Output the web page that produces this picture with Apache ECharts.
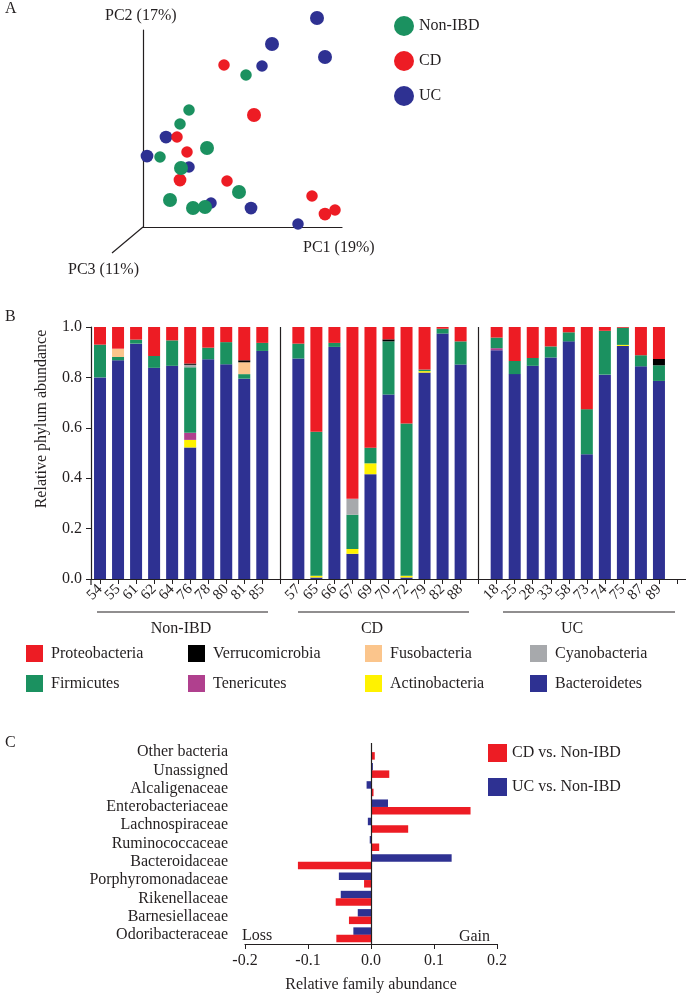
<!DOCTYPE html>
<html><head><meta charset="utf-8">
<script src="https://cdn.jsdelivr.net/npm/echarts@6/dist/echarts.min.js"></script>
<style>html,body{margin:0;padding:0;background:#fff}#c{width:686px;height:994px}</style>
</head><body><div id="c"></div>
<script>
// ---------- Panel A: PCoA (PC1, PC2, PC3 depth 0..1) ----------
const nonIbdPC = [[103,152],[46,117],[37,103],[64,79],[17,70],[38,59],[27,27],[50,19],[62,20],[96,35]];
const nonIbdPC3 = [0,0,0,1,0,1,1,1,1,1];
const cdPC = [[81,162],[111,112],[34,90],[44,75],[37,47],[84,46],[169,31],[182,13],[192,17]];
const cdPC3 = [0,1,0,0,0.5,0,0,0.5,0];
const ucPC = [[174,209],[129,183],[182,170],[119,161],[23,90],[4,71],[46,60],[68,24],[108,19],[155,3]];
const ucPC3 = [1,1,1,0,0.5,0.5,0,0,0.5,0];

// ---------- Panel B: relative phylum abundance ----------
const nonIbdSamples = ['54','55','61','62','64','76','78','80','81','85'];
const cdSamples = ['57','65','66','67','69','70','72','79','82','88'];
const ucSamples = ['18','25','28','33','58','73','74','75','87','89'];
// values in order: Non-IBD (10), CD (10), UC (10)
const bacteroidetes = [.800,.868,.934,.838,.846,.522,.872,.852,.795,.905, .875,.006,.921,.100,.416,.732,.006,.819,.974,.851, .908,.813,.846,.879,.943,.495,.811,.925,.844,.786];
const actinobacteria = [0,0,0,0,0,.030,0,0,0,0, 0,.007,0,.019,.043,0,.007,.006,0,0, 0,0,0,0,0,0,0,.004,0,0];
const tenericutes = [0,0,0,0,0,.028,0,0,0,0, 0,0,0,0,0,0,0,0,0,0, .008,0,0,0,0,0,0,0,0,0];
const firmicutes = [.130,.013,.016,.047,.101,.260,.046,.088,.018,.032, .059,.571,.016,.136,.062,.211,.604,.006,.019,.092, .042,.052,.031,.044,.036,.179,.174,.068,.044,.062];
const cyanobacteria = [0,0,0,0,0,.010,0,0,0,0, 0,0,0,.063,0,0,0,0,0,0, 0,0,0,0,0,0,0,0,0,0];
const fusobacteria = [0,.033,0,0,0,0,0,0,.047,0, 0,0,0,0,0,0,0,0,0,0, 0,0,0,0,0,0,0,0,0,0];
const verrucomicrobia = [0,0,0,0,0,.005,0,0,.008,0, 0,0,0,0,0,.008,0,0,0,0, 0,0,0,0,0,0,0,0,0,.025];
const proteobacteria = [.070,.086,.050,.115,.053,.145,.082,.060,.132,.063, .066,.416,.063,.682,.479,.049,.383,.169,.007,.057, .042,.135,.123,.077,.021,.326,.015,.003,.112,.127];
const yTicksB = [0,0.2,0.4,0.6,0.8,1.0];

// ---------- Panel C: relative family abundance ----------
const families = ['Other bacteria','Unassigned','Alcaligenaceae','Enterobacteriaceae','Lachnospiraceae','Ruminococcaceae','Bacteroidaceae','Porphyromonadaceae','Rikenellaceae','Barnesiellaceae','Odoribacteraceae'];
const cdVsNonIbd = [0.006,0.029,0.004,0.158,0.059,0.013,-0.116,-0.011,-0.056,-0.035,-0.055];
const ucVsNonIbd = [0.001,0.003,-0.007,0.027,-0.005,-0.002,0.128,-0.051,-0.048,-0.021,-0.028];

const FONT = '"Liberation Serif", "Times New Roman", serif';
const TXT = '#231f20';
const COL = {
  Proteobacteria:'#ED1C24', Verrucomicrobia:'#000000', Fusobacteria:'#FBC58C', Cyanobacteria:'#A7A9AC',
  Firmicutes:'#1B9160', Tenericutes:'#B0408E', Actinobacteria:'#FFF200', Bacteroidetes:'#2E3192'
};

// build category axis with gap slots
const cats = [...nonIbdSamples, 'g1', ...cdSamples, 'g2', ...ucSamples, 'g3'];
function withGaps(arr){ return [...arr.slice(0,10), '-', ...arr.slice(10,20), '-', ...arr.slice(20,30), '-']; }
const stackOrder = [
  ['Bacteroidetes', bacteroidetes], ['Actinobacteria', actinobacteria], ['Tenericutes', tenericutes],
  ['Firmicutes', firmicutes], ['Cyanobacteria', cyanobacteria], ['Fusobacteria', fusobacteria],
  ['Verrucomicrobia', verrucomicrobia], ['Proteobacteria', proteobacteria]
];

const chart = echarts.init(document.getElementById('c'), null, {renderer:'canvas'});
const ts = (s) => ({fontFamily:FONT, fontSize:s, color:TXT});
const axLine = {show:true, lineStyle:{color:TXT, width:1.2}};

const seriesB = stackOrder.map(([name, vals], i) => ({
  name, type:'bar', stack:'phyla', xAxisIndex:1, yAxisIndex:1, barWidth:12,
  itemStyle:{color:COL[name]}, data:withGaps(vals), emphasis:{disabled:true},
  markLine: i===0 ? {silent:true, symbol:['none','none'], label:{show:false}, animation:false,
    lineStyle:{color:TXT, width:1.2, type:'solid'}, data:[{xAxis:'g1'},{xAxis:'g2'}]} : undefined
}));

function pcSeries(name, pts, depth, color){
  return {name, type:'scatter', xAxisIndex:0, yAxisIndex:0, clip:false,
    data: pts.map((p,i)=>[p[0],p[1],depth[i]]),
    symbolSize: v => 11.5 + v[2]*2.5, itemStyle:{color, opacity:1}, emphasis:{disabled:true}};
}

const legendB = (left, names) => ({
  data:names, orient:'vertical', left, top:645, padding:0, itemWidth:17, itemHeight:17, itemGap:13,
  icon:'rect', selectedMode:false, textStyle:Object.assign(ts(16), {padding:[0,0,0,3]})
});

chart.setOption({
  animation:false,
  grid:[
    {left:143, top:30, width:199, height:197},
    {left:91, top:327, height:252, width:33*18.4},
    {left:245, top:743, width:252, height:203}
  ],
  xAxis:[
    {gridIndex:0, type:'value', min:0, max:199, axisLine:{show:true, onZero:false, lineStyle:{color:TXT,width:1.2}}, axisTick:{show:false}, axisLabel:{show:false}, splitLine:{show:false}},
    {gridIndex:1, type:'category', data:cats, axisLine:axLine,
      axisTick:{show:true, alignWithLabel:true, interval:0, length:5, lineStyle:{color:TXT}},
      axisLabel:Object.assign(ts(15), {interval:0, rotate:45, margin:8, formatter:v => v.startsWith('g') ? '' : v})},
    {gridIndex:2, type:'value', min:-0.2, max:0.2, interval:0.1, axisLine:axLine,
      axisTick:{show:true, length:5, lineStyle:{color:TXT}}, splitLine:{show:false},
      axisLabel:Object.assign(ts(16), {margin:9, formatter:v => v.toFixed(1)}),
      name:'Relative family abundance', nameLocation:'middle', nameGap:33, nameTextStyle:ts(16)}
  ],
  yAxis:[
    {gridIndex:0, type:'value', min:0, max:197, axisLine:{show:true, onZero:false, lineStyle:{color:TXT,width:1.2}}, axisTick:{show:false}, axisLabel:{show:false}, splitLine:{show:false}},
    {gridIndex:1, type:'value', min:0, max:1, interval:0.2, axisLine:axLine,
      axisTick:{show:true, length:5, lineStyle:{color:TXT}}, splitLine:{show:false},
      axisLabel:Object.assign(ts(16), {margin:9, formatter:v => v.toFixed(1)})},
    {gridIndex:2, type:'category', data:families, inverse:true, axisLine:{show:false}, axisTick:{show:false},
      axisLabel:Object.assign(ts(16), {margin:17, interval:0})}
  ],
  legend:[
    {data:['Non-IBD','CD','UC'], orient:'vertical', left:394, top:16, padding:0, itemWidth:20, itemHeight:20, itemGap:15, icon:'circle', selectedMode:false, textStyle:ts(16)},
    legendB(26, ['Proteobacteria','Firmicutes']),
    legendB(188, ['Verrucomicrobia','Tenericutes']),
    legendB(365, ['Fusobacteria','Actinobacteria']),
    legendB(530, ['Cyanobacteria','Bacteroidetes']),
    {data:['CD vs. Non-IBD','UC vs. Non-IBD'], orient:'vertical', left:488, top:744, padding:0, itemWidth:19, itemHeight:18, itemGap:16, icon:'rect', selectedMode:false, textStyle:ts(16)}
  ],
  series:[
    pcSeries('UC', ucPC, ucPC3, '#2E3192'),
    pcSeries('CD', cdPC, cdPC3, '#ED1C24'),
    pcSeries('Non-IBD', nonIbdPC, nonIbdPC3, '#1B9160'),
    ...seriesB,
    {name:'UC vs. Non-IBD', type:'bar', xAxisIndex:2, yAxisIndex:2, barWidth:7.5, barGap:'0%',
      itemStyle:{color:'#2E3192'}, data:ucVsNonIbd, emphasis:{disabled:true},
      markLine:{silent:true, symbol:['none','none'], label:{show:false}, lineStyle:{color:TXT, width:1.2, type:'solid'}, data:[{xAxis:0}]}},
    {name:'CD vs. Non-IBD', type:'bar', xAxisIndex:2, yAxisIndex:2, barWidth:7.5, barGap:'0%',
      itemStyle:{color:'#ED1C24'}, data:cdVsNonIbd, emphasis:{disabled:true}}
  ],
  graphic:[
    {type:'text', x:5, y:9, style:{text:'A', font:'16px '+FONT, fill:TXT, verticalAlign:'middle'}},
    {type:'text', x:5, y:317, style:{text:'B', font:'16px '+FONT, fill:TXT, verticalAlign:'middle'}},
    {type:'text', x:5, y:743, style:{text:'C', font:'16px '+FONT, fill:TXT, verticalAlign:'middle'}},
    {type:'text', x:105, y:16, style:{text:'PC2 (17%)', font:'16px '+FONT, fill:TXT, verticalAlign:'middle'}},
    {type:'text', x:303, y:248, style:{text:'PC1 (19%)', font:'16px '+FONT, fill:TXT, verticalAlign:'middle'}},
    {type:'text', x:68, y:270, style:{text:'PC3 (11%)', font:'16px '+FONT, fill:TXT, verticalAlign:'middle'}},
    {type:'line', shape:{x1:143, y1:227, x2:112, y2:253}, style:{stroke:TXT, lineWidth:1.2}},
    {type:'text', x:42, y:419, rotation:Math.PI/2, style:{text:'Relative phylum abundance', font:'16px '+FONT, fill:TXT, align:'center', verticalAlign:'middle', textAlign:'center'}},
    {type:'line', shape:{x1:97, y1:612, x2:268, y2:612}, style:{stroke:TXT, lineWidth:1.2}},
    {type:'line', shape:{x1:298, y1:612, x2:469, y2:612}, style:{stroke:TXT, lineWidth:1.2}},
    {type:'line', shape:{x1:503, y1:612, x2:675, y2:612}, style:{stroke:TXT, lineWidth:1.2}},
    {type:'text', x:181, y:629, style:{text:'Non-IBD', font:'16px '+FONT, fill:TXT, textAlign:'center', verticalAlign:'middle'}},
    {type:'text', x:372, y:629, style:{text:'CD', font:'16px '+FONT, fill:TXT, textAlign:'center', verticalAlign:'middle'}},
    {type:'text', x:572, y:629, style:{text:'UC', font:'16px '+FONT, fill:TXT, textAlign:'center', verticalAlign:'middle'}},
    {type:'line', shape:{x1:91, y1:579, x2:91, y2:585}, style:{stroke:TXT, lineWidth:1.2}},
    {type:'text', x:242, y:936, style:{text:'Loss', font:'16px '+FONT, fill:TXT, verticalAlign:'middle'}},
    {type:'text', x:490, y:937, style:{text:'Gain', font:'16px '+FONT, fill:TXT, textAlign:'right', verticalAlign:'middle'}}
  ]
});
</script></body></html>
